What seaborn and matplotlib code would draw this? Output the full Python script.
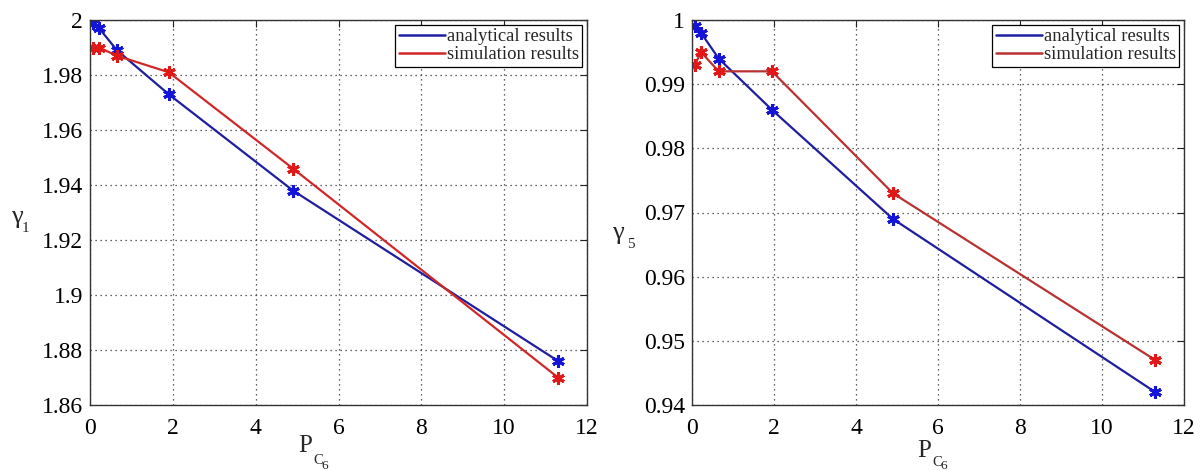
import matplotlib
matplotlib.use("Agg")
import matplotlib.pyplot as plt
import seaborn as sns
import pandas as pd

# data
p_c6 = [0.07, 0.22, 0.65, 1.9, 4.9, 11.3]
g1_analytical = [1.999, 1.997, 1.989, 1.973, 1.938, 1.876]
g1_simulation = [1.990, 1.990, 1.987, 1.981, 1.946, 1.870]
p_c6_b = [0.07, 0.22, 0.65, 1.95, 4.9, 11.3]
g5_analytical = [0.999, 0.998, 0.994, 0.986, 0.969, 0.942]
g5_simulation = [0.993, 0.995, 0.992, 0.992, 0.973, 0.947]
x_ticks = [0, 2, 4, 6, 8, 10, 12]
y1_ticks = [1.86, 1.88, 1.9, 1.92, 1.94, 1.96, 1.98, 2]
y1_labels = ["1.86", "1.88", "1.9", "1.92", "1.94", "1.96", "1.98", "2"]
y5_ticks = [0.94, 0.95, 0.96, 0.97, 0.98, 0.99, 1]
y5_labels = ["0.94", "0.95", "0.96", "0.97", "0.98", "0.99", "1"]
series_names = ["analytical results", "simulation results"]

sns.set_style("white")
plt.rcParams['font.family'] = ['Liberation Serif', 'DejaVu Serif']

W, H = 1202, 471
fig = plt.figure(figsize=(W / 100, H / 100), dpi=100)
ax1 = fig.add_axes([90 / W, 1 - 405 / H, (587 - 90) / W, (405 - 20) / H])
ax2 = fig.add_axes([692 / W, 1 - 405 / H, (1184 - 692) / W, (405 - 20) / H])

def ftext(x, y, s, size):
    fig.text(x / W, 1 - y / H, s, fontsize=size, ha="left", va="baseline")

blue_line, blue_mk = "#1e1e9e", "#1414d8"
mk = (6, 2, 0)

def panel(ax, x, ya, ys, yticks, ylabels, ylim, red_line, red_mk):
    df = pd.DataFrame({"x": x, "a": ya, "s": ys})
    sns.lineplot(data=df, x="x", y="a", ax=ax, color=blue_line, lw=1.6,
                 marker=mk, markersize=9, markeredgewidth=2.2,
                 markeredgecolor=blue_mk, markerfacecolor=blue_mk,
                 label=series_names[0])
    sns.lineplot(data=df, x="x", y="s", ax=ax, color=red_line, lw=1.6,
                 marker=mk, markersize=9, markeredgewidth=2.2,
                 markeredgecolor=red_mk, markerfacecolor=red_mk,
                 label=series_names[1])
    ax.set_xlim(0, 12)
    ax.set_ylim(*ylim)
    ax.set_xticks(x_ticks)
    ax.set_xticklabels([str(t) for t in x_ticks])
    ax.set_yticks(yticks)
    ax.set_yticklabels(ylabels)
    ax.grid(True, linestyle=(0, (1, 3)), color="#333333", lw=0.9)
    ax.tick_params(direction="in", length=5, width=0.8, top=True, right=True,
                   labelsize=17, colors="#222222", labelcolor="black")
    ax.tick_params(axis="x", pad=9)
    ax.tick_params(axis="y", pad=5)
    for s in ax.spines.values():
        s.set_color("#333333")
        s.set_linewidth(1.0)
    ax.set_xlabel("")
    ax.set_ylabel("")
    leg = ax.legend(loc="upper right", fontsize=13.4, handlelength=2.45,
                    handletextpad=0.1, borderaxespad=0.25, borderpad=0.2,
                    labelspacing=0.05, frameon=True, fancybox=False,
                    edgecolor="black", framealpha=1)
    leg.get_frame().set_linewidth(0.9)
    for h in leg.get_lines():
        h.set_marker("")
        h.set_linewidth(1.8)

panel(ax1, p_c6, g1_analytical, g1_simulation, y1_ticks, y1_labels, (1.86, 2.0),
      "#d02828", "#e01818")
panel(ax2, p_c6_b, g5_analytical, g5_simulation, y5_ticks, y5_labels, (0.94, 1.0),
      "#b83232", "#e01818")

# axis labels (gamma with subscript, P with nested subscript)
ftext(11, 223, "γ", 19)
ftext(22, 232, "1", 11)
ftext(612, 239, "γ", 19)
ftext(627, 248, "5", 11)

ftext(298, 452, "P", 18)
ftext(313, 464, "C", 10.5)
ftext(321, 469, "6", 9.5)
ftext(917, 457, "P", 18)
ftext(932, 466, "C", 10.5)
ftext(940, 469, "6", 9.5)

fig.savefig("out.png", dpi=100)
